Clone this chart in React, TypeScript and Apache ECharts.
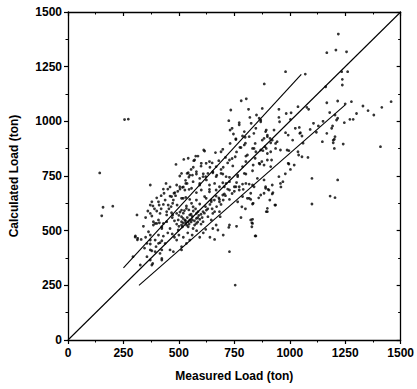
import React, { useEffect, useRef } from "react";
import * as echarts from "echarts";

const xTicks = [0, 250, 500, 750, 1000, 1250, 1500];
const yTicks = [0, 250, 500, 750, 1000, 1250, 1500];

const equalityLine: number[][] = [[0, 0], [1500, 1500]];
const upperBound: number[][] = [[250, 330], [1052, 1215]];
const lowerBound: number[][] = [[320, 250], [1250, 1075]];

const outlierPoints: number[][] = [
  [143, 764], [272, 1010], [255, 1008], [158, 607], [202, 612], [152, 568], [311, 572], [303, 471], [313, 458], [754, 251],
];

const upperPoints: number[][] = [
  [781, 1094], [804, 1103], [734, 1052], [814, 1055], [850, 1029], [725, 1003], [772, 994], [772, 984], [826, 991], [731, 960],
  [746, 942], [799, 927], [817, 930], [757, 920], [838, 945], [844, 899], [731, 899], [616, 864], [665, 857], [690, 861],
  [710, 835], [754, 838], [802, 841], [522, 826], [571, 823], [586, 841], [487, 803], [623, 808], [668, 793], [743, 796],
  [787, 793], [835, 800], [504, 750], [537, 762], [549, 754], [579, 759], [594, 739], [621, 747], [653, 765], [671, 754],
  [698, 759], [728, 744], [765, 747], [802, 759], [371, 709], [442, 716], [490, 709], [516, 698], [594, 709], [638, 709],
  [661, 716], [683, 701], [713, 716], [772, 701], [832, 709],
];

const highPoints: number[][] = [
  [1219, 1399], [1167, 1314], [1208, 1326], [1256, 1318], [981, 1227], [1070, 1216], [1234, 1227], [1261, 1227], [1237, 1192], [1237, 1166],
  [885, 1171], [1162, 1158], [876, 1059], [951, 1055], [1006, 1039], [1037, 1067], [1085, 1055], [1167, 1085], [1216, 1093], [1278, 1090],
  [1330, 1070], [1353, 1049], [1379, 1029], [1415, 1064], [1457, 1090], [1301, 1036], [1286, 1009], [1271, 1009], [1211, 1006], [1204, 1029],
  [862, 1014], [869, 1006], [951, 1018], [954, 998], [1003, 1009], [1107, 991], [1129, 979], [1193, 979], [1246, 994], [894, 960],
  [899, 937], [911, 922], [981, 948], [1025, 968], [1045, 945], [1055, 933], [1092, 963], [1167, 945], [1189, 968], [1204, 930],
  [1196, 914], [1241, 896], [1147, 907], [1201, 876], [1409, 884], [832, 876], [809, 846], [869, 869], [914, 861], [936, 876],
  [958, 869], [996, 866], [1040, 846], [1055, 838], [844, 831], [865, 805], [884, 800], [899, 823], [918, 823], [914, 793],
  [996, 805], [1003, 780], [951, 747], [958, 716], [1100, 739], [1216, 732], [891, 694], [921, 709],
];

const rightPoints: number[][] = [
  [817, 713], [790, 689], [839, 701], [891, 701], [902, 689], [869, 663], [921, 668], [817, 648], [832, 622], [784, 609],
  [936, 617], [899, 587], [1100, 622], [1182, 658], [1204, 651], [832, 552], [829, 536], [829, 518], [844, 476],
];

const middlePoints: number[][] = [
  [531, 716], [546, 689], [579, 674], [638, 689], [705, 701], [378, 632], [408, 632], [383, 613], [411, 617], [438, 640],
  [460, 658], [478, 671], [512, 648], [531, 652], [472, 625], [492, 617], [534, 613], [557, 625], [579, 640], [594, 622],
  [623, 648], [646, 632], [668, 658], [683, 643], [705, 668], [728, 686], [757, 701], [787, 713], [809, 648], [824, 643],
  [835, 625], [371, 579], [378, 567], [415, 579], [445, 572], [467, 582], [490, 579], [512, 564], [527, 549], [542, 541],
  [549, 572], [579, 579], [609, 587], [631, 564], [594, 552], [661, 587], [686, 564], [445, 541], [400, 533], [385, 541],
  [423, 518], [460, 510], [516, 518], [564, 510], [621, 506], [653, 510], [676, 503], [725, 515], [304, 476], [363, 495],
  [371, 457], [408, 480], [415, 445], [371, 439], [397, 427], [423, 412], [460, 412], [475, 404], [378, 408], [371, 366],
  [378, 343], [423, 366], [512, 427], [549, 457], [594, 470], [661, 460], [728, 404], [847, 476],
  [371, 617], [433, 671], [467, 656], [452, 617], [482, 674], [504, 701], [537, 716], [385, 526], [408, 549], [430, 533],
  [445, 587], [472, 572], [497, 549],
];

const densePoints: number[][] = [
  [795, 892], [839, 876], [888, 884], [612, 869], [576, 841], [542, 831], [567, 820], [601, 808], [638, 816], [728, 823],
  [802, 816], [847, 861], [862, 808], [512, 762], [542, 765], [561, 754], [579, 770], [609, 747], [631, 762], [653, 770],
  [668, 747], [690, 762], [713, 747], [765, 754], [795, 762], [832, 774], [564, 724], [594, 716], [624, 732], [698, 719],
  [728, 724], [750, 701], [802, 716], [854, 739], [527, 686], [557, 694], [601, 686], [638, 678], [668, 686], [698, 663],
  [772, 686], [824, 671], [884, 671], [519, 648], [549, 643], [616, 656], [646, 640], [683, 632], [728, 643], [765, 632],
  [787, 656], [899, 602], [512, 594], [534, 602], [564, 609], [586, 587], [624, 594], [653, 579], [683, 587], [519, 556],
  [549, 549], [579, 556], [609, 541], [646, 549], [512, 526], [542, 518], [571, 526], [668, 526], [728, 526], [824, 549],
  [832, 533], [894, 587],
  [393, 533], [412, 536], [423, 510], [512, 541], [531, 536], [546, 530], [579, 533], [497, 503], [314, 465], [371, 480],
  [393, 457], [408, 442], [423, 454], [438, 442], [490, 457], [534, 442], [356, 442], [371, 412], [393, 404], [415, 396],
  [356, 381], [382, 350], [423, 373], [326, 343], [293, 381], [512, 412],
];

const upperMidPoints: number[][] = [
  [820, 1018], [869, 998], [740, 968], [795, 953], [847, 968], [757, 917], [787, 933], [884, 922], [899, 930], [921, 914],
  [943, 907], [698, 872], [775, 881], [894, 876],
  [1077, 1064], [984, 1036], [1216, 1014], [1201, 918], [1196, 902], [1043, 972], [1048, 948], [929, 960], [891, 953], [876, 914],
  [914, 902], [993, 937], [1013, 914], [879, 866], [899, 853], [988, 869], [1037, 861], [1082, 835], [874, 816], [936, 899],
  [993, 808], [884, 732], [969, 724], [906, 686], [924, 674], [933, 617],
];

const clusterPoints: number[][] = [
  [500, 570], [505, 585], [520, 580], [525, 592], [538, 560], [545, 595], [555, 575], [560, 565], [565, 590], [570, 545],
  [575, 600], [585, 560], [590, 570], [600, 575], [605, 560], [615, 580], [620, 610], [630, 600], [640, 620], [650, 600],
  [660, 640], [670, 610], [680, 650], [690, 620], [700, 640], [710, 660], [720, 690], [740, 670], [750, 680], [760, 720],
  [520, 535], [530, 545], [555, 540], [560, 550], [585, 540], [600, 530], [535, 525], [500, 520], [490, 530], [480, 545],
  [470, 560], [455, 600], [465, 610], [475, 640], [485, 660], [495, 680], [505, 690], [520, 700], [530, 730], [545, 745],
  [555, 780], [565, 790], [600, 795], [610, 760], [640, 790], [650, 810], [680, 820], [690, 780], [700, 790], [720, 810],
  [740, 830], [760, 860], [780, 880], [800, 900], [450, 690], [460, 700], [430, 690], [420, 660], [400, 650], [390, 600],
  [400, 590], [420, 600], [430, 620], [340, 520], [350, 560], [360, 590], [330, 460], [350, 470], [345, 420], [430, 475],
  [450, 490], [470, 485], [480, 470], [500, 480], [520, 470], [540, 490], [560, 480], [580, 500], [610, 490], [640, 470],
  [700, 480], [760, 520], [780, 560], [800, 600], [860, 650], [910, 640], [960, 700], [980, 760], [1020, 800], [1060, 900],
  [1120, 950], [1150, 1000], [1180, 1040], [1250, 1080],
];

const FONT = "'Liberation Sans', Arial, sans-serif";

export default function App() {
  const ref = useRef<HTMLDivElement>(null);
  useEffect(() => {
    if (!ref.current) return;
    const chart = echarts.init(ref.current, undefined, { renderer: "svg" });
    const allPoints = [
      ...outlierPoints, ...upperPoints, ...highPoints, ...rightPoints, ...middlePoints,
      ...densePoints, ...upperMidPoints, ...clusterPoints,
    ];
    const axisLineStyle = { color: "#000", width: 1.3 };
    const labelStyle = { color: "#000", fontSize: 12, fontWeight: "bold" as const, fontFamily: FONT };
    const baseAxis = {
      type: "value" as const,
      min: 0,
      max: 1500,
      interval: 250,
      splitLine: { show: false },
      minorSplitLine: { show: false },
    };
    chart.setOption({
      animation: false,
      backgroundColor: "#fff",
      grid: { left: 67, right: 13, top: 12, bottom: 49, containLabel: false },
      xAxis: [
        {
          ...baseAxis,
          position: "bottom",
          axisLine: { show: true, onZero: false, lineStyle: axisLineStyle },
          axisTick: { show: true, inside: false, length: 4, lineStyle: { color: "#000", width: 1.2 } },
          minorTick: { show: true, splitNumber: 2, length: 2.5, lineStyle: { color: "#000", width: 1 } },
          axisLabel: { ...labelStyle, margin: 7, formatter: (v: number) => (xTicks.includes(v) ? String(v) : "") },
          name: "Measured Load (ton)",
          nameLocation: "middle",
          nameGap: 30,
          nameTextStyle: { ...labelStyle },
        },
        {
          ...baseAxis,
          position: "top",
          axisLine: { show: true, onZero: false, lineStyle: axisLineStyle },
          axisTick: { show: true, inside: true, length: 4, lineStyle: { color: "#000", width: 1.2 } },
          minorTick: { show: true, splitNumber: 2, length: 2.5, lineStyle: { color: "#000", width: 1 } },
          axisLabel: { show: false },
        },
      ],
      yAxis: [
        {
          ...baseAxis,
          position: "left",
          axisLine: { show: true, onZero: false, lineStyle: axisLineStyle },
          axisTick: { show: true, inside: false, length: 4, lineStyle: { color: "#000", width: 1.2 } },
          minorTick: { show: true, splitNumber: 2, length: 2.5, lineStyle: { color: "#000", width: 1 } },
          axisLabel: { ...labelStyle, margin: 6, formatter: (v: number) => (yTicks.includes(v) ? String(v) : "") },
          name: "Calculated Load (ton)",
          nameLocation: "middle",
          nameGap: 48,
          nameTextStyle: { ...labelStyle },
        },
        {
          ...baseAxis,
          position: "right",
          axisLine: { show: true, onZero: false, lineStyle: axisLineStyle },
          axisTick: { show: true, inside: true, length: 4, lineStyle: { color: "#000", width: 1.2 } },
          minorTick: { show: true, splitNumber: 2, length: 2.5, lineStyle: { color: "#000", width: 1 } },
          axisLabel: { show: false },
        },
      ],
      series: [
        {
          type: "scatter",
          xAxisIndex: 0,
          yAxisIndex: 0,
          data: allPoints,
          symbol: "circle",
          symbolSize: 2.8,
          itemStyle: { color: "#000" },
          silent: true,
        },
        ...[equalityLine, upperBound, lowerBound].map((d) => ({
          type: "line" as const,
          xAxisIndex: 0,
          yAxisIndex: 0,
          data: d,
          showSymbol: false,
          symbol: "none",
          lineStyle: { color: "#000", width: 1.1 },
          silent: true,
        })),
      ],
    });
    return () => chart.dispose();
  }, []);
  return (
    <div
      ref={ref}
      style={{ position: "absolute", left: 0, top: 0, width: 417, height: 389, background: "#fff" }}
    />
  );
}
